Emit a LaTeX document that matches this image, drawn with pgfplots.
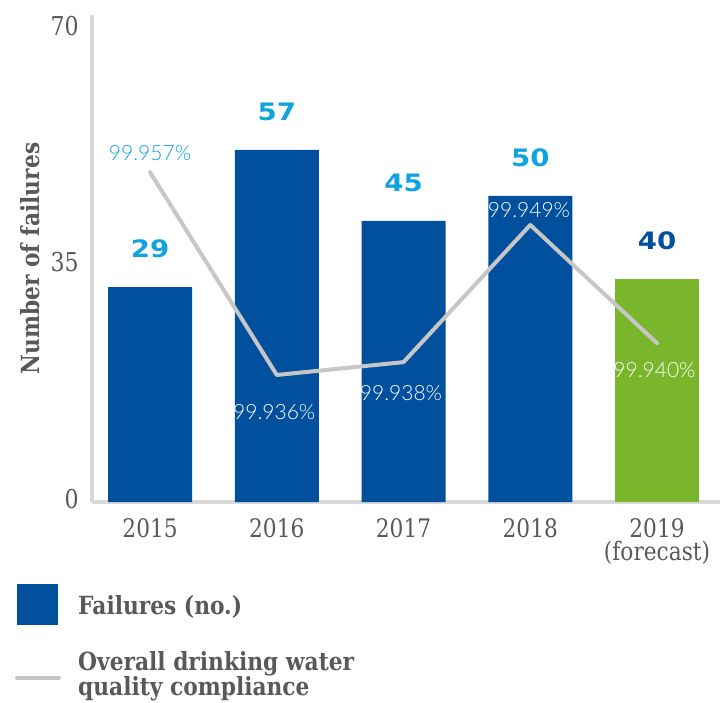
\documentclass[border=0pt]{standalone}
\usepackage{pgfplots}
\pgfplotsset{compat=1.18}
\usepackage{fontspec}
\setmainfont{DejaVu Serif}
\newfontfamily\tickfont[FakeStretch=0.85]{DejaVu Serif}
\newfontfamily\slab[FakeStretch=0.87]{DejaVu Serif}
\newfontfamily\heavy[FakeStretch=1.15]{DejaVu Sans}
\newfontfamily\thin{Lato Light}
\definecolor{barblue}{HTML}{00509E}
\definecolor{bargreen}{HTML}{7AB62B}
\definecolor{labcyan}{HTML}{0FA3E0}
\definecolor{linegray}{HTML}{C6C6C6}
\definecolor{axgray}{HTML}{D9D9D9}
\definecolor{txtgray}{HTML}{595959}
\pgfplotstableread{
x y lab
0 31.8 29
1 52.1 57
2 41.6 45
3 45.3 50
}\failures
\pgfplotstableread{
x y lab
4 33.0 40
}\forecast
\pgfplotstableread{
x y
0 48.8
1 18.8
2 20.7
3 41.0
4 23.5
}\compliance
\pgfplotstableread{
x y lab
0 51.65 99.957\%
}\complabA
\pgfplotstableread{
x y lab
0.98 13.3 99.936\%
1.98 16.1 99.938\%
2.99 43.2 99.949\%
3.98 19.5 99.940\%
}\complabB
\begin{document}
\begin{tikzpicture}
\path[use as bounding box] (0pt,0pt) rectangle (726pt,-702pt);
\coordinate (O) at (92pt,-502pt);
\begin{axis}[
  at={(O)}, anchor=south west,
  scale only axis, width=628pt, height=487pt,
  xmin=-0.458, xmax=4.497, ymin=0, ymax=72.07,
  axis x line*=bottom, axis y line*=left,
  x axis line style={-, draw=axgray, line width=4pt},
  y axis line style={-, draw=axgray, line width=4pt},
  major tick length=0pt,
  /pgf/number format/assume math mode=true,
  xtick={0,1,2,3,4},
  xticklabels={2015,2016,2017,2018,{2019\\(forecast)}},
  xticklabel style={anchor=north, align=center, inner sep=0pt, yshift=-16pt,
    font=\tickfont\fontsize{25.5}{23}\selectfont, text=txtgray},
  ytick={0,35,70},
  yticklabel style={anchor=east, inner sep=0pt, xshift=-13pt, yshift=3pt,
    font=\tickfont\fontsize{26}{26}\selectfont, text=txtgray},
  ylabel={Number of failures},
  ylabel style={at={(axis description cs:0,0.5)}, anchor=center, yshift=62pt,
    font=\slab\bfseries\fontsize{25}{25}\selectfont, text=txtgray},
  clip=false,
]
\addplot[ybar, bar shift=0pt, bar width=84pt, fill=barblue, draw=none,
  point meta=explicit symbolic, nodes near coords,
  nodes near coords style={anchor=center, yshift=38pt,
    font=\heavy\bfseries\fontsize{24}{24}\selectfont, text=labcyan}]
  table[x=x, y=y, meta=lab]{\failures};
\addplot[ybar, bar shift=0pt, bar width=84pt, fill=bargreen, draw=none,
  point meta=explicit symbolic, nodes near coords,
  nodes near coords style={anchor=center, yshift=38pt,
    font=\heavy\bfseries\fontsize{24}{24}\selectfont, text=barblue}]
  table[x=x, y=y, meta=lab]{\forecast};
\addplot[linegray, line width=4pt, line cap=round, line join=round, no markers]
  table[x=x, y=y]{\compliance};
\addplot[draw=none, no markers, point meta=explicit symbolic, nodes near coords,
  nodes near coords style={anchor=center, inner sep=0pt,
    font=\thin\fontsize{21}{21}\selectfont, text=labcyan}]
  table[x=x, y=y, meta=lab]{\complabA};
\addplot[draw=none, no markers, point meta=explicit symbolic, nodes near coords,
  nodes near coords style={anchor=center, inner sep=0pt,
    font=\thin\fontsize{21}{21}\selectfont, text=white}]
  table[x=x, y=y, meta=lab]{\complabB};
\end{axis}
% legend
\fill[barblue] (17pt,-584pt) rectangle (58pt,-625pt);
\node[anchor=west, inner sep=0pt, text=txtgray, font=\slab\bfseries\fontsize{25}{25}\selectfont]
  at (78pt,-607pt) {Failures (no.)};
\draw[linegray, line width=4pt, line cap=round] (17pt,-678pt) -- (59pt,-678pt);
\node[anchor=west, inner sep=0pt, align=left, text=txtgray, font=\slab\bfseries\fontsize{25}{25}\selectfont]
  at (78pt,-676pt) {Overall drinking water\\quality compliance};
\end{tikzpicture}
\end{document}
